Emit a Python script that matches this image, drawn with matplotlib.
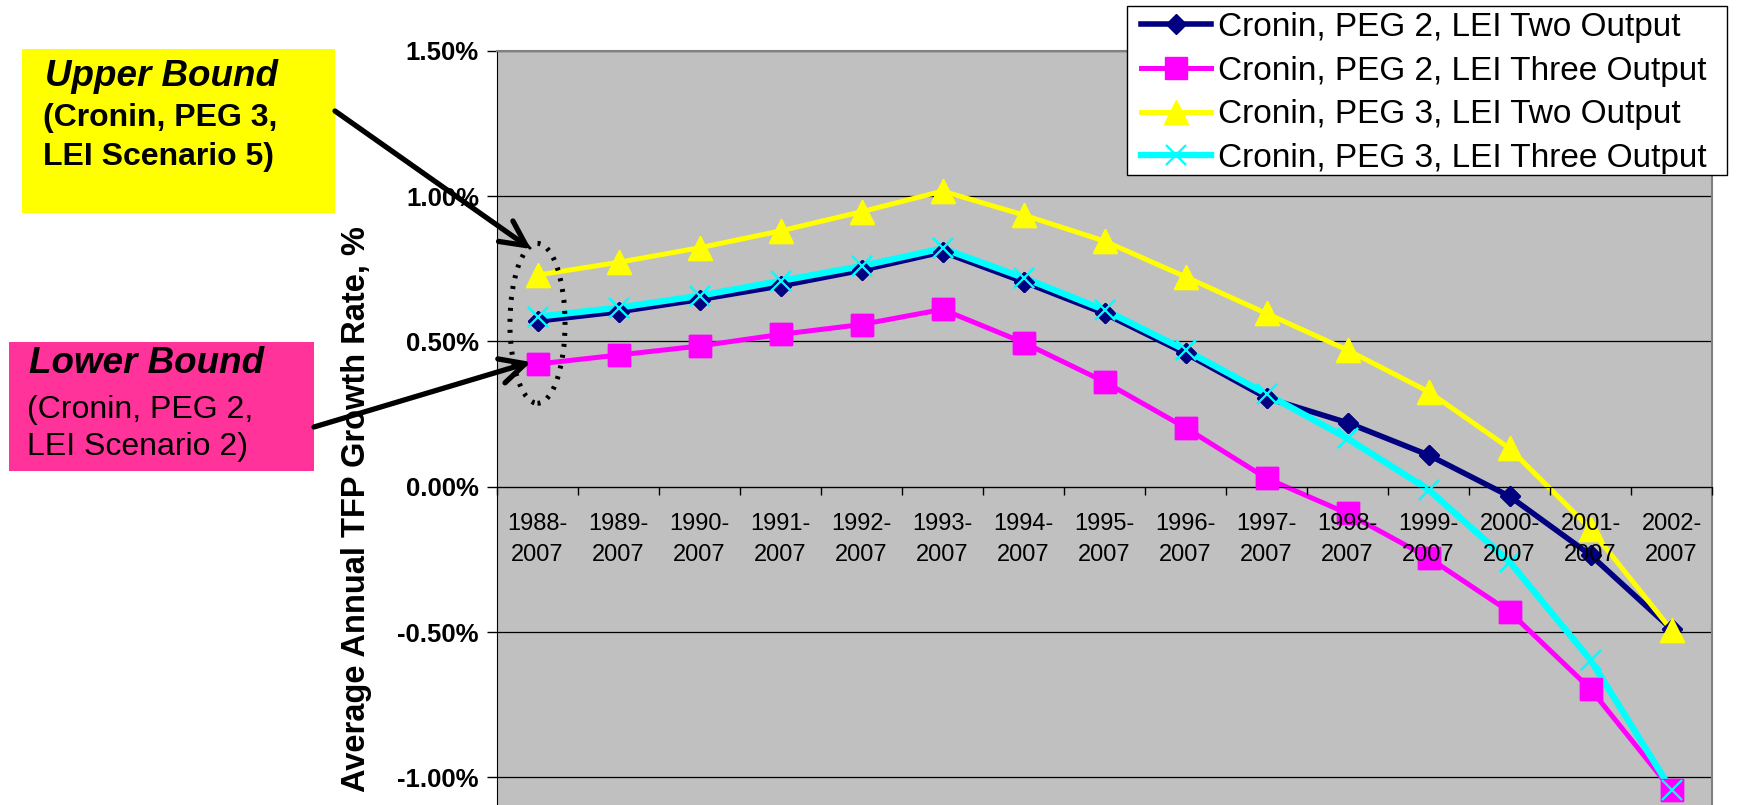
import matplotlib
matplotlib.use("Agg")
import matplotlib.pyplot as plt
from matplotlib.patches import Rectangle, Ellipse, FancyArrowPatch
from matplotlib.ticker import FuncFormatter, FixedLocator

plt.rcParams['font.family'] = ['Liberation Sans', 'DejaVu Sans']

periods = ['1988-\n2007', '1989-\n2007', '1990-\n2007', '1991-\n2007', '1992-\n2007',
           '1993-\n2007', '1994-\n2007', '1995-\n2007', '1996-\n2007', '1997-\n2007',
           '1998-\n2007', '1999-\n2007', '2000-\n2007', '2001-\n2007', '2002-\n2007']

# average annual TFP growth, percent
peg2_two = [0.570, 0.602, 0.644, 0.691, 0.745, 0.808, 0.705, 0.596, 0.459, 0.306,
            0.220, 0.109, -0.033, -0.235, -0.490]
peg2_three = [0.422, 0.453, 0.484, 0.524, 0.558, 0.610, 0.496, 0.361, 0.203, 0.029,
              -0.092, -0.244, -0.430, -0.696, -1.043]
peg3_two = [0.728, 0.772, 0.822, 0.880, 0.946, 1.017, 0.935, 0.845, 0.722, 0.596,
            0.470, 0.327, 0.132, -0.145, -0.493]
peg3_three = [0.585, 0.616, 0.657, 0.708, 0.759, 0.820, 0.719, 0.608, 0.470, 0.319,
              0.166, -0.010, -0.258, -0.596, -1.043]

series_names = ['Cronin, PEG 2, LEI Two Output', 'Cronin, PEG 2, LEI Three Output',
                'Cronin, PEG 3, LEI Two Output', 'Cronin, PEG 3, LEI Three Output']

W, H = 1742, 805


def fx(x):
    return x / W


def fy(y):
    return 1 - y / H


fig = plt.figure(figsize=(W / 100, H / 100), dpi=100)
ax = fig.add_axes([fx(497), 0, fx(1712 - 497), (H - 50.7) / H])
ax.set_facecolor('#C0C0C0')

x = list(range(len(periods)))
styles = [
    dict(color='#000080', marker='D', ms=10, lw=4.0),
    dict(color='#FF00FF', marker='s', ms=16.5, lw=3.6),
    dict(color='#FFFF00', marker='^', ms=17, lw=3.6),
    dict(color='#00FFFF', marker='x', ms=14, lw=4.6, mew=1.6),
]
handles = []
for i, (vals, st) in enumerate(zip([peg2_two, peg2_three, peg3_two, peg3_three], styles)):
    h, = ax.plot(x, vals, color=st['color'], lw=st['lw'], marker=st['marker'],
                 ms=st['ms'], mew=st.get('mew', 1), mec=st['color'], zorder=2 + i * 0.1)
    handles.append(h)
    # markers sit above every line
    ax.plot(x, vals, ls='none', marker=st['marker'], ms=st['ms'], color=st['color'],
            mew=st.get('mew', 1), mec=st['color'], zorder=3 + i * 0.1)

ax.set_xlim(-0.5, len(periods) - 0.5)
ax.set_ylim(-1.095, 1.5)

ax.set_axisbelow(True)
ax.yaxis.set_major_locator(FixedLocator([1.5, 1.0, 0.5, 0.0, -0.5, -1.0]))
ax.yaxis.set_major_formatter(FuncFormatter(lambda v, p: f'{v:.2f}%'))
ax.grid(axis='y', color='black', lw=0.9)
ax.tick_params(axis='y', direction='out', length=7, width=1, pad=6,
               labelsize=18.5)
for t in ax.get_yticklabels():
    t.set_fontweight('bold')

ax.spines['bottom'].set_position(('data', 0))
ax.spines['bottom'].set_color('black')
ax.spines['left'].set_color('black')
for side in ('top', 'right'):
    ax.spines[side].set_color('#808080')
    ax.spines[side].set_linewidth(1.5)

ax.set_xticks(x)
ax.set_xticklabels(periods)
ax.set_xticks([v - 0.5 for v in x] + [len(periods) - 0.5], minor=True)
ax.tick_params(axis='x', which='major', length=0, pad=19, labelsize=17)
ax.tick_params(axis='x', which='minor', direction='out', length=6, width=1)
for t in ax.get_xticklabels():
    t.set_linespacing(1.55)
ax.xaxis.set_zorder(5)

# dotted ring around the first period
ax.add_patch(Ellipse((0, 0.562), 0.68, 0.55, fill=False, ec='black', lw=3.6,
                     ls=(0, (0.6, 1.6)), clip_on=False, zorder=6))

fig.text(fx(357), fy(509), 'Average Annual TFP Growth Rate, %', rotation=90,
         ha='center', va='center', fontsize=23.5, fontweight='bold')

# legend box
fig.add_artist(Rectangle((fx(1127), fy(175)), fx(1727 - 1127), (175 - 6) / H,
                         transform=fig.transFigure, fc='white', ec='black',
                         lw=1, zorder=4))
fig.legend(handles, series_names, loc='upper left', bbox_to_anchor=(fx(1141), fy(12)),
           frameon=False, borderpad=0, borderaxespad=0, handlelength=2.1,
           handletextpad=0.2, labelspacing=0.38, fontsize=24)

# bound call-outs
fig.add_artist(Rectangle((fx(22), fy(213)), fx(335 - 22), (213 - 49) / H,
                         transform=fig.transFigure, fc='#FFFF00', ec='none', zorder=1))
fig.text(fx(45), fy(77), 'Upper Bound', fontsize=26.5, fontweight='bold',
         fontstyle='italic', va='center')
fig.text(fx(43), fy(118), '(Cronin, PEG 3,', fontsize=23, fontweight='bold', va='center')
fig.text(fx(43), fy(157), 'LEI Scenario 5)', fontsize=23, fontweight='bold', va='center')

fig.add_artist(Rectangle((fx(9), fy(471)), fx(314 - 9), (471 - 342) / H,
                         transform=fig.transFigure, fc='#FF3399', ec='none', zorder=1))
fig.text(fx(29), fy(363), 'Lower Bound', fontsize=26.5, fontweight='bold',
         fontstyle='italic', va='center')
fig.text(fx(27), fy(410), '(Cronin, PEG 2,', fontsize=23, va='center')
fig.text(fx(27), fy(447), 'LEI Scenario 2)', fontsize=23, va='center')

for start, end in [((335, 111), (531, 249)), ((314, 427), (531, 362))]:
    fig.add_artist(FancyArrowPatch((fx(start[0]), fy(start[1])), (fx(end[0]), fy(end[1])),
                                   transform=fig.transFigure,
                                   arrowstyle='->,head_length=0.9,head_width=0.45',
                                   mutation_scale=20, lw=3.8, color='black',
                                   shrinkA=0, shrinkB=0, zorder=7))

fig.savefig('out.png', dpi=100)
